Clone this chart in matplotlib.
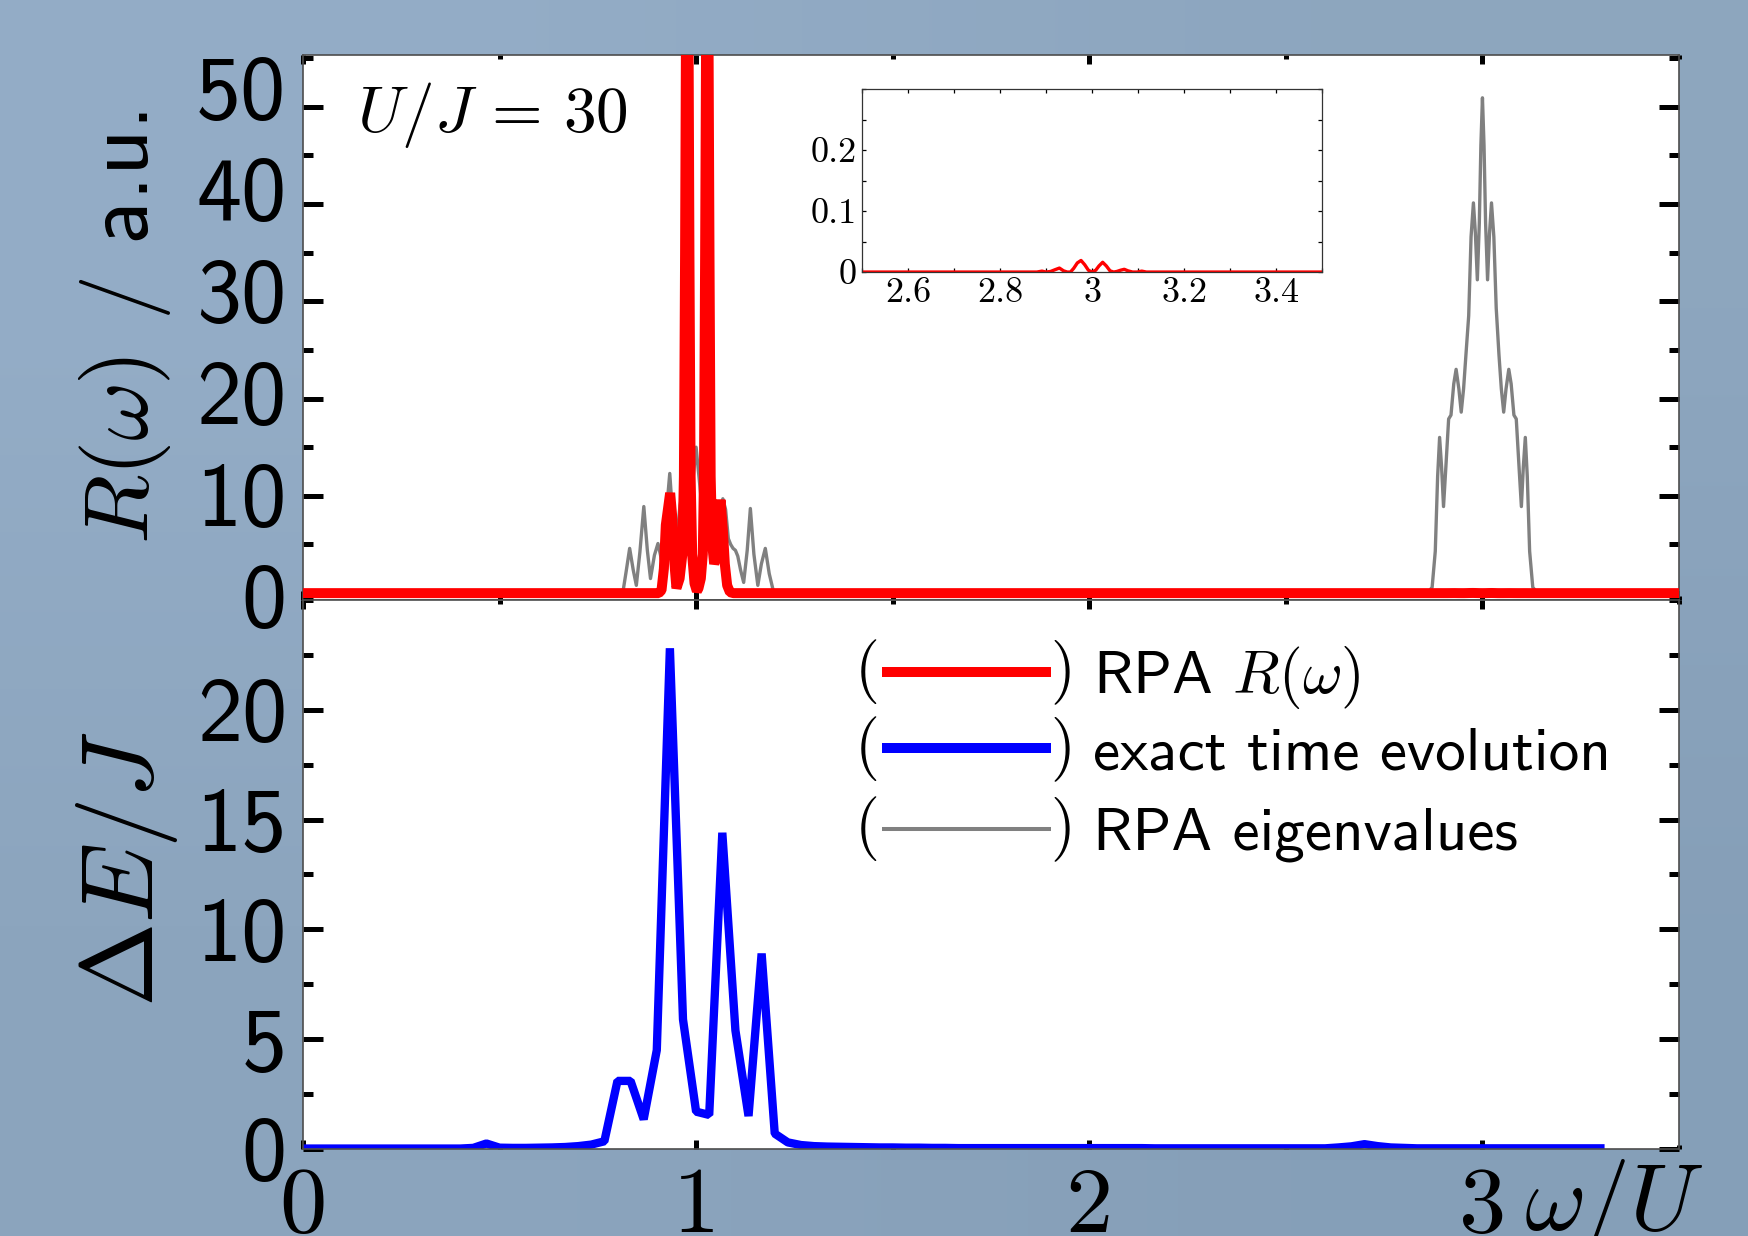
import numpy as np
import matplotlib
matplotlib.use("Agg")
import matplotlib.pyplot as plt
from matplotlib.ticker import MultipleLocator

plt.rcParams['mathtext.fontset'] = 'cm'
plt.rcParams['axes.unicode_minus'] = False

# ---- values ------------------------------------------------------------
# RPA R(omega) (top panel, and the inset around w/U = 3)
rpa_w = [0.000, 0.905, 0.912, 0.918, 0.923, 0.928, 0.934, 0.940, 0.945, 0.950,
         0.958, 0.965, 0.969, 0.972, 0.9775, 0.983, 0.986, 0.990, 0.996, 1.002,
         1.006, 1.012, 1.017, 1.020, 1.023, 1.0285, 1.034, 1.037, 1.041, 1.046,
         1.050, 1.055, 1.062, 1.068, 1.073, 1.079, 1.086, 1.095,
         2.880, 2.891, 2.900, 2.910, 2.920, 2.929, 2.938, 2.946, 2.953, 2.960,
         2.968, 2.976, 2.984, 2.992, 3.000, 3.008, 3.015, 3.023, 3.031, 3.039,
         3.047, 3.054, 3.062, 3.070, 3.078, 3.088, 3.098, 3.108, 3.118, 3.500]
rpa_r = [0.0, 0.0, 0.3, 2.5, 7.0, 8.5, 10.3, 7.5, 3.0, 0.5,
         1.5, 4.0, 12.0, 35.0, 90.0, 35.0, 12.0, 4.0, 1.0, 0.2,
         0.5, 1.5, 4.0, 12.0, 35.0, 85.0, 35.0, 12.0, 5.0, 3.0,
         3.5, 6.5, 9.6, 6.5, 3.0, 0.8, 0.1, 0.0,
         0.0, 0.0015, 0.0, 0.001, 0.004, 0.0065, 0.002, 0.0, 0.0, 0.006,
         0.015, 0.019, 0.012, 0.003, 0.0, 0.003, 0.010, 0.016, 0.010, 0.002,
         0.0, 0.001, 0.003, 0.0045, 0.002, 0.0, 0.0, 0.0015, 0.0, 0.0]

# RPA eigenvalues (broadened), top panel
eig_w = [0.000, 0.805, 0.815, 0.822, 0.831, 0.840, 0.848, 0.857, 0.867, 0.876,
         0.884, 0.894, 0.903, 0.909, 0.914, 0.922, 0.933, 0.942, 0.950, 0.959,
         0.967, 0.976, 0.986, 0.994, 1.000, 1.006, 1.014, 1.024, 1.033, 1.041,
         1.050, 1.059, 1.068, 1.075, 1.082, 1.088, 1.094, 1.100, 1.106, 1.113,
         1.121, 1.130, 1.138, 1.147, 1.157, 1.166, 1.176, 1.186, 1.196, 1.205,
         2.860, 2.872, 2.880, 2.886, 2.891, 2.896, 2.901, 2.907, 2.914, 2.920,
         2.927, 2.933, 2.940, 2.946, 2.952, 2.958, 2.965, 2.971, 2.977, 2.982,
         2.987, 2.992, 2.996, 3.000, 3.004, 3.008, 3.013, 3.018, 3.023, 3.029,
         3.035, 3.042, 3.048, 3.054, 3.060, 3.067, 3.073, 3.080, 3.086, 3.093,
         3.099, 3.104, 3.109, 3.114, 3.120, 3.128, 3.140, 3.500]
eig_r = [0.0, 0.0, 0.4, 2.2, 4.6, 2.4, 0.8, 4.2, 8.9, 4.4,
         1.5, 3.9, 5.1, 4.0, 2.9, 7.2, 12.3, 7.0, 5.2, 9.0,
         10.8, 7.5, 9.2, 12.5, 15.0, 12.5, 9.2, 7.5, 10.5, 8.8,
         5.5, 7.5, 9.7, 8.6, 5.6, 5.0, 4.6, 4.4, 3.8, 2.4,
         1.1, 4.4, 8.7, 4.0, 0.8, 3.0, 4.6, 2.0, 0.3, 0.0,
         0.0, 0.6, 4.3, 12.0, 16.0, 13.0, 8.9, 13.0, 17.9, 18.3,
         21.5, 23.0, 21.0, 18.6, 21.0, 24.5, 28.5, 36.6, 40.1, 37.0,
         32.2, 38.0, 46.0, 50.9, 46.0, 38.0, 32.2, 37.0, 40.1, 36.6,
         29.3, 24.5, 21.0, 18.6, 21.0, 23.0, 21.5, 18.3, 17.9, 13.0,
         8.9, 13.0, 16.0, 12.0, 4.3, 0.6, 0.0, 0.0]

# exact time evolution, bottom panel; one point per J/U = 1/30
exact_dE = [0.02, 0.02, 0.02, 0.02, 0.02, 0.02, 0.02, 0.02, 0.02, 0.02,
            0.02, 0.02, 0.02, 0.05, 0.25, 0.06, 0.05, 0.05, 0.06, 0.07,
            0.09, 0.13, 0.20, 0.35, 3.10, 3.10, 1.35, 4.50, 22.8, 5.90,
            1.70, 1.55, 14.4, 5.40, 1.50, 8.90, 0.70, 0.30, 0.18, 0.13,
            0.11, 0.10, 0.09, 0.08, 0.07, 0.07, 0.06, 0.06, 0.05, 0.05,
            0.04, 0.04, 0.04, 0.04, 0.04, 0.04, 0.04, 0.04, 0.04, 0.04,
            0.04, 0.04, 0.04, 0.04, 0.04, 0.03, 0.03, 0.03, 0.03, 0.03,
            0.03, 0.03, 0.03, 0.03, 0.03, 0.03, 0.03, 0.03, 0.03, 0.07,
            0.12, 0.22, 0.13, 0.07, 0.05, 0.03, 0.03, 0.03, 0.03, 0.03,
            0.03, 0.03, 0.03, 0.03, 0.03, 0.03, 0.03, 0.03, 0.03, 0.03]
exact_w = np.arange(len(exact_dE)) / 30.0

r_ticks = [0, 10, 20, 30, 40, 50]
dE_ticks = [0, 5, 10, 15, 20]
w_ticks = [0, 1, 2, 3]
w_labels = ['0', '1', '2', '3']
inset_w_ticks = [2.6, 2.8, 3.0, 3.2, 3.4]
inset_w_labels = ['2.6', '2.8', '3', '3.2', '3.4']
inset_r_ticks = [0, 0.1, 0.2]
inset_r_labels = ['0', '0.1', '0.2']
legend_labels = [r'RPA $R(\omega)$', 'exact time evolution', 'RPA eigenvalues']

RED, BLUE, GREY = '#ff0000', '#0000ff', '#808080'
SANS, SERIF = 'cmss10', 'cmr10'

fig = plt.figure(figsize=(17.49, 12.36), dpi=100)

# slide background
bg = fig.add_axes([0, 0, 1, 1], zorder=-10)
grad = np.array([[[0.580, 0.678, 0.780], [0.553, 0.651, 0.749]],
                 [[0.549, 0.647, 0.745], [0.525, 0.624, 0.722]]])
bg.imshow(grad, extent=(0, 1, 0, 1), aspect='auto', interpolation='bilinear')
bg.axis('off')

ax1 = fig.add_axes([0.1732, 0.5146, 0.7868, 0.4409])
ax2 = fig.add_axes([0.1732, 0.0704, 0.7868, 0.4442])

ax1.plot(eig_w, eig_r, color=GREY, lw=2.4, zorder=2)
ax1.plot(rpa_w, rpa_r, color=RED, lw=7.2, solid_joinstyle='bevel', zorder=3)
ax1.set_ylim(-0.7, 55.3)

ax2.plot(exact_w, exact_dE, color=BLUE, lw=6, solid_joinstyle='bevel')
ax2.set_ylim(0, 25)

for ax in (ax1, ax2):
    ax.set_xlim(0, 3.5)
    ax.xaxis.set_minor_locator(MultipleLocator(0.5))
    ax.tick_params(axis='both', which='both', direction='in', width=3.6,
                   top=True, bottom=True, left=True, right=True, color='black')
    ax.tick_params(axis='x', which='major', length=6.5)
    ax.tick_params(axis='x', which='minor', length=3.2)
    ax.tick_params(axis='y', which='major', length=14.5)
    ax.tick_params(axis='y', which='minor', length=7.2)
    for s in ax.spines.values():
        s.set_color('0.3')
        s.set_linewidth(1.2)

# top panel ticks; the labels in the original are spread slightly wider
ax1.set_xticks(w_ticks)
ax1.set_yticks(r_ticks)
ax1.yaxis.set_minor_locator(MultipleLocator(5))
ax1.tick_params(labelbottom=False, labelleft=False)
ytr = ax1.get_yaxis_transform()
for v in r_ticks:
    ax1.text(-0.012, 1.045 * v - 3.5, str(v), transform=ytr, ha='right',
             va='baseline', fontsize=65, family=SANS)
ax1.text(0.039, 0.859, r'$U/J\,=\,30$', transform=ax1.transAxes, fontsize=47,
         va='baseline')
ax1.set_ylabel(r'$R(\omega)$ / a.u.', fontsize=65, family=SANS)
ax1.yaxis.label.set_va('center')
ax1.yaxis.set_label_coords(-0.129, 0.5)

# bottom panel ticks
ax2.set_xticks(w_ticks, w_labels, fontfamily=SERIF, fontsize=68)
ax2.set_yticks(dE_ticks, [str(v) for v in dE_ticks], fontfamily=SANS, fontsize=65)
ax2.yaxis.set_minor_locator(MultipleLocator(2.5))
ax2.tick_params(axis='x', pad=13)
ax2.tick_params(axis='y', pad=11.5)
ax2.text(3.106, -0.1475, r'$\omega/U$', transform=ax2.get_xaxis_transform(),
         fontsize=68, ha='left', va='baseline')
ax2.set_ylabel(r'$\Delta E/J$', fontsize=73)
ax2.yaxis.label.set_va('center')
ax2.yaxis.set_label_coords(-0.128, 0.51)

# legend drawn by hand: "( line ) label"
rows_y = [0.869, 0.730, 0.583]
for y, lab, col, lw in zip(rows_y, legend_labels, [RED, BLUE, GREY], [7.2, 7.2, 2.9]):
    ax2.text(0.410, y, '(', transform=ax2.transAxes, ha='center', va='center',
             fontsize=46, family=SERIF)
    ax2.plot([0.4208, 0.5436], [y, y], transform=ax2.transAxes, color=col,
             lw=lw, solid_capstyle='butt')
    ax2.text(0.5523, y, ')', transform=ax2.transAxes, ha='center', va='center',
             fontsize=46, family=SERIF)
    ax2.text(0.574, y - 0.038, lab, transform=ax2.transAxes, ha='left',
             va='baseline', fontsize=44, family=SANS)

# inset: R(omega) around w/U = 3
axin = fig.add_axes([0.4929, 0.7799, 0.2630, 0.1481])
axin.plot(rpa_w, rpa_r, color=RED, lw=2.4)
axin.set_xlim(2.5, 3.5)
axin.set_ylim(0, 0.3)
axin.set_xticks(inset_w_ticks, inset_w_labels, fontfamily=SERIF, fontsize=26)
axin.set_yticks(inset_r_ticks, inset_r_labels, fontfamily=SERIF, fontsize=26)
axin.xaxis.set_minor_locator(MultipleLocator(0.1))
axin.yaxis.set_minor_locator(MultipleLocator(0.05))
axin.tick_params(which='both', direction='in', top=True, right=True,
                 length=3, width=0.9, pad=4)
for s in axin.spines.values():
    s.set_color('0.2')
    s.set_linewidth(0.9)

fig.savefig('out.png', dpi=100)
